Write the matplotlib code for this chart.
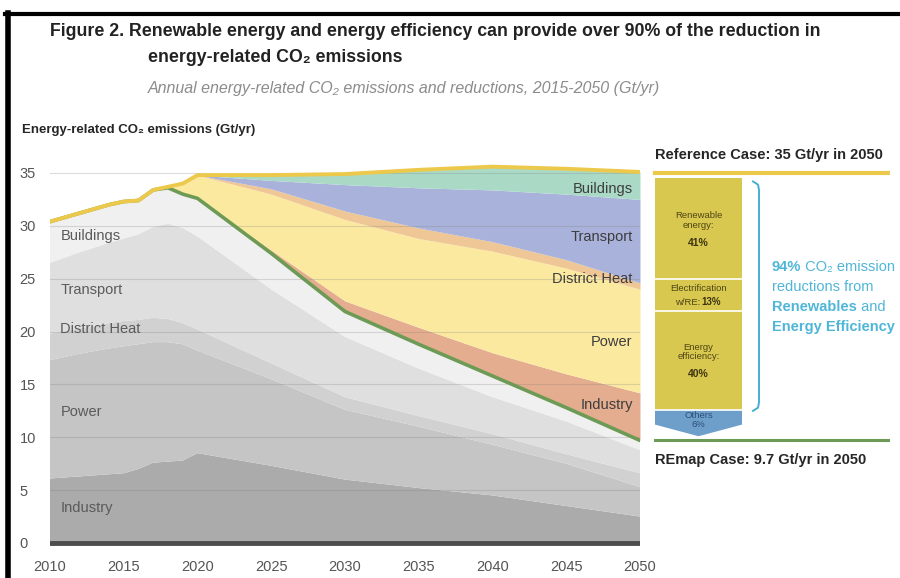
import numpy as np
import matplotlib.pyplot as plt
from matplotlib.patches import Polygon
from matplotlib.lines import Line2D

plt.rcParams['font.family'] = ['Liberation Sans', 'DejaVu Sans']

years = [2010, 2012, 2014, 2015, 2016, 2017, 2018, 2019, 2020, 2025, 2030, 2035, 2040, 2045, 2050]

# REmap case emissions by sector (Gt/yr) - grey stack
remap_industry = [6.1, 6.3, 6.5, 6.6, 7.0, 7.6, 7.7, 7.8, 8.5, 7.3, 6.0, 5.2, 4.5, 3.5, 2.5]
remap_power = [11.2, 11.6, 11.9, 12.0, 11.8, 11.4, 11.3, 11.0, 9.7, 8.2, 6.6, 5.8, 4.8, 4.0, 2.8]
remap_heat = [2.5, 2.4, 2.4, 2.4, 2.3, 2.3, 2.2, 2.0, 2.0, 1.5, 1.2, 1.0, 1.0, 0.9, 1.3]
remap_transport = [6.7, 7.2, 7.6, 7.8, 8.1, 8.6, 9.0, 9.0, 8.8, 7.0, 5.7, 4.5, 3.5, 3.1, 2.2]
remap_buildings = [3.9, 3.7, 3.6, 3.5, 3.2, 3.5, 3.4, 3.2, 3.6, 3.4, 2.4, 2.3, 2.0, 1.3, 0.9]

# reductions relative to the reference case (Gt/yr) - coloured stack
cut_industry = [0, 0, 0, 0, 0, 0, 0, 0, 0, 0.3, 1.0, 1.6, 2.2, 3.2, 4.5]
cut_power = [0, 0, 0, 0, 0, 0, 0.1, 1.0, 2.2, 5.3, 7.7, 8.4, 9.6, 10.0, 9.8]
cut_heat = [0, 0, 0, 0, 0, 0, 0, 0, 0, 0.5, 0.8, 1.0, 0.9, 0.8, 0.6]
cut_transport = [0, 0, 0, 0, 0, 0, 0, 0, 0, 0.8, 2.5, 3.8, 4.9, 6.2, 7.9]
cut_buildings = [0, 0, 0, 0, 0, 0, 0, 0, 0, 0.5, 1.0, 1.7, 2.2, 2.4, 2.6]

sectors = ['Industry', 'Power', 'District Heat', 'Transport', 'Buildings']

# breakdown of the 2050 reduction
share_names = ['Renewable\nenergy:', 'Electrification', 'Energy\nefficiency:', 'Others']
shares = [41, 13, 40, 6]
ref_2050 = 35
remap_2050 = 9.7

W, H = 900, 578
def fx(p):
    return p / W
def fy(p):
    return 1 - p / H

fig = plt.figure(figsize=(9, 5.78), dpi=100)

# axes placed so that 2010..2050 -> x 50..640 px, 0..35 -> y 543..173 px
ppu = (543 - 173) / 35.0
ylo, yhi = -0.4, 37
ax_bot = fy(543 + (0 - ylo) * ppu)
ax_h = (yhi - ylo) * ppu / H
ax = fig.add_axes([fx(50), ax_bot, fx(640) - fx(50), ax_h])
ax.set_xlim(2010, 2050)
ax.set_ylim(ylo, yhi)

greys = ['#ababab', '#c5c5c5', '#d1d1d1', '#dfdfdf', '#f0f0f0']
ax.stackplot(years, remap_industry, remap_power, remap_heat, remap_transport,
             remap_buildings, colors=greys, lw=0, zorder=1)

remap_total = np.sum([remap_industry, remap_power, remap_heat, remap_transport,
                      remap_buildings], axis=0)
cuts = [cut_industry, cut_power, cut_heat, cut_transport, cut_buildings]
cut_colors = ['#e5ad8f', '#fce9a0', '#efc796', '#a9b2da', '#aadac6']
base = remap_total.copy()
for c, col in zip(cuts, cut_colors):
    top = base + np.array(c)
    ax.fill_between(years, base, top, color=col, lw=0, zorder=1)
    base = top
reference_total = base

ax.plot(years, remap_total, color='#6d9b55', lw=2.6, zorder=4, solid_capstyle='round')
ax.plot(years, reference_total, color='#ecc94b', lw=2.8, zorder=5, solid_capstyle='round')
ax.axhline(0, color='#4d4d4d', lw=3.5, zorder=5)

for yv in range(5, 36, 5):
    ax.axhline(yv, color='#7a7a7a', lw=0.8, alpha=0.25, zorder=3)

ax.set_yticks(range(0, 36, 5))
ax.set_xticks(range(2010, 2051, 5))
ax.tick_params(length=0, labelsize=10.5, labelcolor='#555555')
ax.tick_params(axis='y', pad=22)
ax.tick_params(axis='x', pad=9)
for t in ax.get_yticklabels():
    t.set_horizontalalignment('left')
for s in ax.spines.values():
    s.set_visible(False)
ax.patch.set_alpha(0)

# sector labels on the grey stack
grey_lab_y = [3.3, 12.4, 20.2, 23.9, 29.0]
for name, yv in zip(sectors, grey_lab_y):
    ax.text(2010.7, yv, name, color='#5a5a5a', fontsize=10.5, va='center', zorder=6)

# sector labels on the reduction wedges
cut_lab_y = [13.1, 19.0, 25.0, 28.9, 33.5]
for name, yv in zip(sectors, cut_lab_y):
    ax.text(2049.5, yv, name, color='#3d3d3d', fontsize=10.5, va='center', ha='right', zorder=6)

# side panel with the 2050 breakdown
side = fig.add_axes([fx(650), ax_bot, fx(890) - fx(650), ax_h])
side.set_xlim(0, 240)
side.set_ylim(ylo, yhi)
side.axis('off')

side.plot([5, 238], [ref_2050, ref_2050], color='#ecc94b', lw=3)
side.plot([5, 238], [remap_2050, remap_2050], color='#6d9b55', lw=2.2)

bar_top, bar_bot = 34.5, 11.2
unit = (bar_top - bar_bot) / sum(shares)
y0 = bar_top
seg_cols = ['#d9c84f', '#d9c84f', '#d9c84f', '#6e9fcb']
dark_txt = '#4f4515'
for i, (nm, sh) in enumerate(zip(share_names, shares)):
    y1 = y0 - sh * unit
    if i < 3:
        side.fill_between([5, 92], y1, y0, color=seg_cols[i], lw=0)
    else:
        side.add_patch(Polygon([[5, y0], [92, y0], [92, y1], [48.5, y1 - 1.1], [5, y1]],
                               closed=True, color=seg_cols[i], lw=0))
    if i > 0:
        side.plot([5, 92], [y0, y0], color='white', lw=1.2)
    ym = (y0 + y1) / 2
    if i == 1:
        side.text(48.5, ym + 0.6, nm, fontsize=6.8, color=dark_txt,
                  ha='center', va='center')
        side.text(50, ym - 0.65, 'w/RE:', fontsize=6.8, color=dark_txt,
                  ha='right', va='center')
        side.text(51.5, ym - 0.65, f'{sh}%', fontsize=7, color='#3c3410', ha='left',
                  va='center', fontweight='bold')
    elif i == 3:
        side.text(48.5, ym - 0.3, f'{nm}\n{sh}%', fontsize=6.8, color='#2e4e78',
                  ha='center', va='center', linespacing=1.0)
    else:
        side.text(48.5, ym + 0.8, nm, fontsize=6.8, color=dark_txt, ha='center',
                  va='center', linespacing=1.1)
        side.text(48.5, ym - 1.3, f'{sh}%', fontsize=7.5, color='#3c3410', ha='center',
                  va='center', fontweight='bold')
    y0 = y1

# bracket
side.plot([103, 108, 109, 109, 108, 103],
          [34.2, 33.9, 33.4, 13.3, 12.8, 12.5], color='#47aed3', lw=1.4)

renderer = fig.canvas.get_renderer()
def runs(x, y, parts, **kw):
    for txt, bold in parts:
        t = side.text(x, y, txt, fontweight='bold' if bold else 'normal', va='center',
                      ha='left', **kw)
        bb = t.get_window_extent(renderer)
        x += bb.width * 240 / (fx(890) - fx(650)) / W

blue = '#4fb6d8'
runs(122, 26.1, [('94%', True), (' CO₂ emission', False)], color=blue, fontsize=10.5)
runs(122, 24.2, [('reductions from', False)], color=blue, fontsize=10.5)
runs(122, 22.3, [('Renewables', True), (' and', False)], color=blue, fontsize=10.5)
runs(122, 20.4, [('Energy Efficiency', True)], color=blue, fontsize=10.5)

side.text(5, 36.7, 'Reference Case: 35 Gt/yr in 2050', fontsize=10.5, fontweight='bold',
          color='#262626', va='center')
side.text(5, 7.85, 'REmap Case: 9.7 Gt/yr in 2050', fontsize=10.5, fontweight='bold',
          color='#262626', va='center')

# titles
fig.text(fx(50), fy(32), 'Figure 2. Renewable energy and energy efficiency can provide over 90% of the reduction in',
         fontsize=12.8, fontweight='bold', color='#222222', va='center')
fig.text(fx(148), fy(58), 'energy-related CO₂ emissions', fontsize=12.8, fontweight='bold',
         color='#222222', va='center')
fig.text(fx(148), fy(88), 'Annual energy-related CO₂ emissions and reductions, 2015-2050 (Gt/yr)',
         fontsize=11.5, style='italic', color='#8c8c8c', va='center')
fig.text(fx(22), fy(130), 'Energy-related CO₂ emissions (Gt/yr)', fontsize=9.5,
         fontweight='bold', color='#262626', va='center')

# frame of the original screenshot
fig.add_artist(Line2D([fx(5), 1], [fy(14), fy(14)], lw=3, color='black',
                      transform=fig.transFigure))
fig.add_artist(Line2D([fx(7.5), fx(7.5)], [fy(12.5), 0], lw=4, color='black',
                      transform=fig.transFigure))

fig.savefig('out.png', dpi=100)
